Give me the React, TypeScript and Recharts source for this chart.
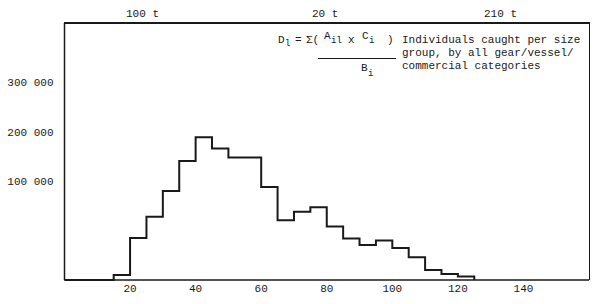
import { LineChart, Line, XAxis, YAxis } from 'recharts';

// size group (lower bound of each 5 cm class) and individuals caught
const sizeClasses = [0, 15, 20, 25, 30, 35, 40, 45, 50, 55, 60, 65, 70, 75, 80, 85, 90, 95, 100, 105, 110, 115, 120, 125];
const individuals = [
  -100000, -90000, -15000, 28000, 80000, 141000, 189000, 166000, 148000, 148000, 88000, 21000,
  38000, 47000, 8000, -16000, -29000, -20000, -35000, -54000, -80000, -88000, -93000, -100000,
];
const xTicks = [20, 40, 60, 80, 100, 120, 140];
const yTicks = [100000, 200000, 300000];
const topLabels = ['100 t', '20 t', '210 t'];

const data = sizeClasses.map((size, i) => ({ size, count: individuals[i] }));

const FONT = '"Liberation Mono", "DejaVu Sans Mono", monospace';
const INK = '#1a1a1a';

const formatThousands = (v: number) => {
  const s = String(v);
  return s.slice(0, s.length - 3) + ' ' + s.slice(-3);
};

const txt = (left: number, top: number, content: React.ReactNode, size = 11) => (
  <div style={{ position: 'absolute', left, top, fontFamily: FONT, fontSize: size, color: INK, whiteSpace: 'pre', lineHeight: 1 }}>
    {content}
  </div>
);

const App = () => {
  return (
    <div style={{ position: 'absolute', left: 0, top: 0, width: 600, height: 304, background: '#fff' }}>
      <LineChart width={600} height={304} data={data} margin={{ top: 23, right: 11, bottom: 0, left: 0 }}>
        <XAxis
          dataKey="size"
          type="number"
          domain={[0, 160]}
          ticks={xTicks}
          height={24}
          tickLine={false}
          tickSize={2}
          axisLine={{ stroke: INK, strokeWidth: 1.5 }}
          tick={{ fill: INK, fontSize: 11, fontFamily: FONT }}
        />
        <YAxis
          type="number"
          domain={[-100000, 420000]}
          ticks={yTicks}
          width={64.5}
          tickLine={false}
          tickSize={9}
          axisLine={{ stroke: INK, strokeWidth: 1.5 }}
          tickFormatter={formatThousands}
          tick={{ fill: INK, fontSize: 11, fontFamily: FONT }}
        />
        <Line
          type="stepAfter"
          dataKey="count"
          stroke={INK}
          strokeWidth={2}
          dot={false}
          isAnimationActive={false}
        />
      </LineChart>

      {/* top and right edges of the frame */}
      <div style={{ position: 'absolute', left: 64, top: 22, width: 526, height: 1.5, background: INK }} />
      <div style={{ position: 'absolute', left: 588.5, top: 22, width: 1.5, height: 258, background: INK }} />

      {txt(126, 9, topLabels[0])}
      {txt(312, 9, topLabels[1])}
      {txt(484, 9, topLabels[2])}

      {/* formula block */}
      {txt(278, 35, 'D')}
      {txt(285, 40, 'l', 9)}
      {txt(295, 35, '=')}
      {txt(306, 35, 'Σ(')}
      {txt(324, 31, 'A')}
      {txt(331, 37, 'il', 9)}
      {txt(348, 35, 'x')}
      {txt(362, 31, 'C')}
      {txt(369, 37, 'i', 9)}
      {txt(387, 35, ')')}
      <div style={{ position: 'absolute', left: 318, top: 58, width: 78, height: 1, background: INK }} />
      {txt(361, 63, 'B')}
      {txt(368, 70, 'i', 9)}

      {txt(402, 35, 'Individuals caught per size')}
      {txt(402, 48, 'group, by all gear/vessel/')}
      {txt(402, 61, 'commercial categories')}
    </div>
  );
};

export default App;
